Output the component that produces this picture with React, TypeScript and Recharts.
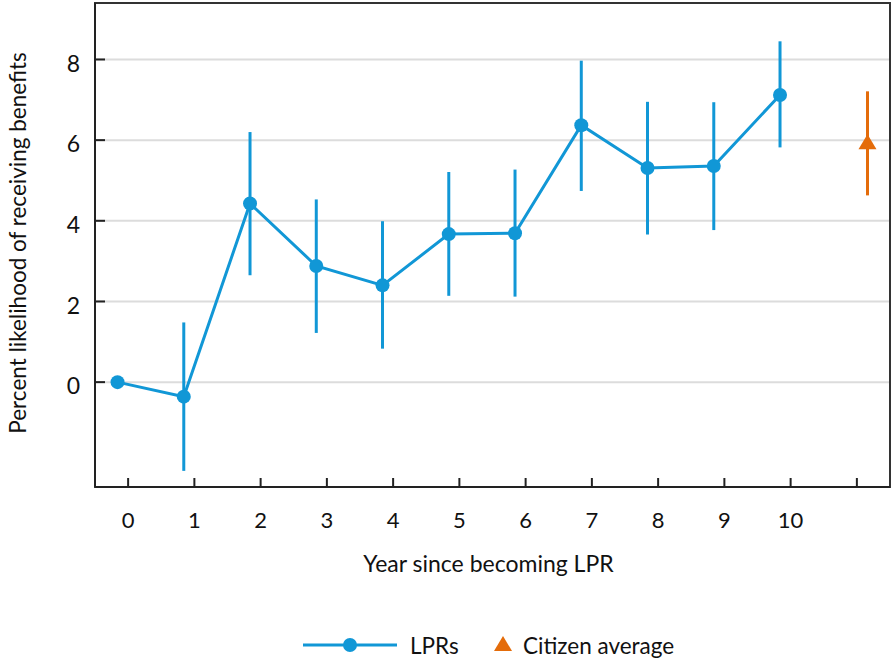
import React from 'react';
import {
  ComposedChart,
  Line,
  Scatter,
  XAxis,
  YAxis,
  CartesianGrid,
  ErrorBar,
  Legend,
  ReferenceArea,
} from 'recharts';

// ---- data ----
const years = [0, 1, 2, 3, 4, 5, 6, 7, 8, 9, 10];
const lprValues = [0, -0.36, 4.43, 2.88, 2.4, 3.67, 3.69, 6.37, 5.31, 5.36, 7.12];
const lprLow = [0, -2.2, 2.65, 1.22, 0.83, 2.14, 2.12, 4.74, 3.66, 3.77, 5.82];
const lprHigh = [0, 1.48, 6.2, 4.53, 3.99, 5.21, 5.27, 7.97, 6.95, 6.94, 8.45];

const citizenYear = 11;
const citizenValue = 5.92;
const citizenLow = 4.63;
const citizenHigh = 7.21;

const xTicks = [0, 1, 2, 3, 4, 5, 6, 7, 8, 9, 10, 11];
const xTickLabels = ['0', '1', '2', '3', '4', '5', '6', '7', '8', '9', '10', ''];
const yTicks = [0, 2, 4, 6, 8];

const seriesNames = ['LPRs', 'Citizen average'];

// ---- styling ----
const BLUE = '#1197d6';
const ORANGE = '#e46c0a';
const AXIS = '#222222';
const FONT = 'Lato, "Open Sans", sans-serif';
const DODGE = 0.16;
const X_DOMAIN: [number, number] = [-0.5, 11.5];
const Y_DOMAIN: [number, number] = [-2.6, 9.4];

const lprData = years.map((yr, i) => ({
  x: yr - DODGE,
  y: lprValues[i],
  err: [lprValues[i] - lprLow[i], lprHigh[i] - lprValues[i]],
}));

const citizenData = [
  {
    x: citizenYear + DODGE,
    y: citizenValue,
    err: [citizenValue - citizenLow, citizenHigh - citizenValue],
  },
];

const XTick = (props: any) => {
  const { x, y, payload } = props;
  const idx = xTicks.indexOf(payload.value);
  return (
    <g>
      <line x1={x} x2={x} y1={y} y2={y - 9} stroke={AXIS} strokeWidth={2} />
      <text x={x} y={y + 41} textAnchor="middle" fontSize={22} fontFamily={FONT} fill="#111">
        {idx >= 0 ? xTickLabels[idx] : ''}
      </text>
    </g>
  );
};

const YTick = (props: any) => {
  const { x, y, payload } = props;
  return (
    <g>
      <line x1={x} x2={x + 10} y1={y} y2={y} stroke={AXIS} strokeWidth={2} />
      <text x={x - 15} y={y + 4} dy="0.35em" textAnchor="end" fontSize={23} fontFamily={FONT} fill="#111">
        {payload.value}
      </text>
    </g>
  );
};

const YTitle = (props: any) => {
  const vb = props.viewBox || { y: 3, height: 484 };
  const cy = vb.y + vb.height / 2 - 2;
  return (
    <text
      transform={`translate(26, ${cy}) rotate(-90)`}
      textAnchor="middle"
      fontSize={22.5}
      fontFamily={FONT}
      fill="#111"
    >
      Percent likelihood of receiving benefits
    </text>
  );
};

const XTitle = (props: any) => {
  const vb = props.viewBox || { x: 95, y: 487, width: 795 };
  return (
    <text
      x={vb.x + vb.width / 2 - 4}
      y={vb.y + 85}
      textAnchor="middle"
      fontSize={23}
      fontFamily={FONT}
      fill="#111"
    >
      Year since becoming LPR
    </text>
  );
};

const Triangle = (props: any) => {
  const { cx, cy } = props;
  if (cx == null || cy == null) return null;
  return (
    <polygon
      points={`${cx},${cy - 9} ${cx - 9},${cy + 6} ${cx + 9},${cy + 6}`}
      fill={ORANGE}
    />
  );
};

const LegendContent = () => (
  <svg width={892} height={40} style={{ display: 'block' }}>
    <line x1={303} x2={397} y1={21} y2={21} stroke={BLUE} strokeWidth={3} />
    <circle cx={350} cy={21} r={7} fill={BLUE} />
    <text x={410} y={22} dy="0.35em" fontSize={22.5} fontFamily={FONT} fill="#111">
      {seriesNames[0]}
    </text>
    <polygon points="503,12 494,27 512,27" fill={ORANGE} />
    <text x={523} y={22} dy="0.35em" fontSize={22.5} fontFamily={FONT} fill="#111">
      {seriesNames[1]}
    </text>
  </svg>
);

export default function App() {
  return (
    <div style={{ position: 'absolute', left: 0, top: 0, width: 892, height: 664, background: '#fff' }}>
      <ComposedChart
        width={892}
        height={664}
        margin={{ top: 3, right: 2, left: 0, bottom: 0 }}
      >
        <CartesianGrid
          vertical={false}
          stroke="#dcdcdc"
          strokeWidth={2}
        />
        <XAxis
          dataKey="x"
          type="number"
          domain={X_DOMAIN}
          ticks={xTicks}
          allowDataOverflow
          height={137}
          tickSize={0}
          tickMargin={0}
          tickLine={false}
          tick={<XTick />}
          axisLine={{ stroke: AXIS, strokeWidth: 2 }}
          label={(p: any) => <XTitle {...p} />}
          interval={0}
        />
        <YAxis
          type="number"
          domain={Y_DOMAIN}
          ticks={yTicks}
          allowDataOverflow
          width={95}
          tickSize={0}
          tickMargin={0}
          tickLine={false}
          tick={<YTick />}
          axisLine={{ stroke: AXIS, strokeWidth: 2 }}
          label={(p: any) => <YTitle {...p} />}
          interval={0}
        />
        <ReferenceArea
          x1={X_DOMAIN[0]}
          x2={X_DOMAIN[1]}
          y1={Y_DOMAIN[0]}
          y2={Y_DOMAIN[1]}
          fill="none"
          fillOpacity={0}
          stroke="#333"
          strokeWidth={2}
          ifOverflow="visible"
        />
        <Line
          data={lprData}
          dataKey="y"
          name={seriesNames[0]}
          stroke={BLUE}
          strokeWidth={3}
          dot={{ r: 7, fill: BLUE, stroke: 'none' }}
          activeDot={false}
          isAnimationActive={false}
        >
          <ErrorBar dataKey="err" direction="y" width={0} stroke={BLUE} strokeWidth={3} />
        </Line>
        <Scatter
          data={citizenData}
          dataKey="y"
          name={seriesNames[1]}
          fill={ORANGE}
          shape={<Triangle />}
          isAnimationActive={false}
        >
          <ErrorBar dataKey="err" direction="y" width={0} stroke={ORANGE} strokeWidth={3} />
        </Scatter>
        <Legend verticalAlign="bottom" height={40} content={<LegendContent />} wrapperStyle={{ left: 0, width: 892 }} />
      </ComposedChart>
    </div>
  );
}
